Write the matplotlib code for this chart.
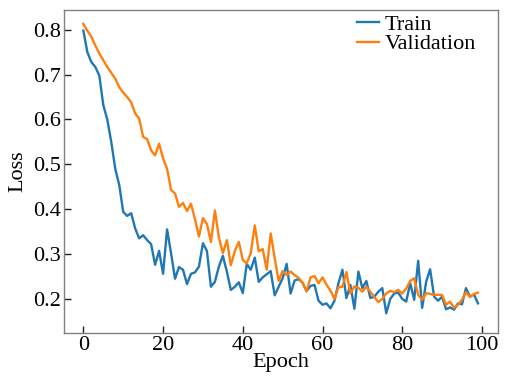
import matplotlib
matplotlib.use("Agg")
import matplotlib.pyplot as plt
import numpy as np

epochs = list(range(100))
train_loss = [
    0.798, 0.750, 0.728, 0.717, 0.698, 0.632, 0.600, 0.550, 0.490, 0.454,
    0.394, 0.385, 0.391, 0.357, 0.335, 0.342, 0.331, 0.322, 0.276, 0.307,
    0.256, 0.355, 0.302, 0.245, 0.271, 0.265, 0.233, 0.256, 0.259, 0.272,
    0.324, 0.307, 0.227, 0.238, 0.272, 0.296, 0.261, 0.220, 0.227, 0.237,
    0.213, 0.278, 0.265, 0.292, 0.238, 0.248, 0.255, 0.262, 0.208, 0.227,
    0.246, 0.278, 0.212, 0.241, 0.244, 0.236, 0.217, 0.229, 0.231, 0.196,
    0.187, 0.190, 0.179, 0.196, 0.235, 0.265, 0.202, 0.231, 0.178, 0.261,
    0.224, 0.240, 0.202, 0.205, 0.216, 0.224, 0.168, 0.200, 0.212, 0.214,
    0.200, 0.194, 0.235, 0.198, 0.285, 0.180, 0.238, 0.266, 0.205, 0.196,
    0.205, 0.177, 0.181, 0.176, 0.190, 0.188, 0.224, 0.205, 0.210, 0.190,
]
val_loss = [
    0.813, 0.798, 0.784, 0.765, 0.747, 0.732, 0.717, 0.704, 0.691, 0.672,
    0.660, 0.650, 0.638, 0.613, 0.602, 0.561, 0.556, 0.531, 0.520, 0.546,
    0.513, 0.490, 0.443, 0.435, 0.405, 0.414, 0.396, 0.412, 0.378, 0.339,
    0.380, 0.367, 0.327, 0.397, 0.337, 0.302, 0.331, 0.275, 0.307, 0.327,
    0.287, 0.279, 0.302, 0.364, 0.306, 0.311, 0.265, 0.346, 0.291, 0.240,
    0.262, 0.253, 0.261, 0.253, 0.247, 0.236, 0.217, 0.248, 0.251, 0.235,
    0.248, 0.232, 0.218, 0.200, 0.226, 0.227, 0.260, 0.212, 0.228, 0.225,
    0.216, 0.227, 0.216, 0.204, 0.193, 0.200, 0.212, 0.218, 0.215, 0.220,
    0.212, 0.223, 0.240, 0.246, 0.209, 0.198, 0.213, 0.211, 0.209, 0.209,
    0.209, 0.187, 0.194, 0.180, 0.187, 0.198, 0.215, 0.204, 0.211, 0.214,
]
xticks = [0, 20, 40, 60, 80, 100]
yticks = [0.2, 0.3, 0.4, 0.5, 0.6, 0.7, 0.8]

plt.rcParams['font.family'] = 'serif'
plt.rcParams['font.serif'] = ['Liberation Serif', 'DejaVu Serif']
plt.rcParams['font.size'] = 16

fig = plt.figure(figsize=(5.05, 3.81), dpi=100)
ax = fig.add_axes([0.126, 0.126, 0.8595, 0.849])

ax.plot(epochs, train_loss, color='#1f77b4', lw=1.7, label='Train')
ax.plot(epochs, val_loss, color='#ff7f0e', lw=1.7, label='Validation')

ax.set_xlim(-4.95, 103.95)
ax.set_ylim(0.124, 0.845)
ax.set_xticks(xticks)
ax.set_xticklabels([str(t) for t in xticks])
ax.set_yticks(yticks)
ax.set_yticklabels([f"{t:.1f}" for t in yticks])
ax.tick_params(direction='in', length=5, width=1, color='#222222')
ax.tick_params(axis='x', pad=2)
ax.tick_params(axis='y', pad=2)
for s in ax.spines.values():
    s.set_color('#808080')
    s.set_linewidth(1.0)

ax.set_xlabel('Epoch', labelpad=-1)
ax.set_ylabel('Loss', labelpad=4)

ax.legend(loc='upper right', bbox_to_anchor=(0.95, 0.985), frameon=False,
          borderaxespad=0, borderpad=0, handlelength=1.0, handletextpad=0.25,
          labelspacing=-0.05)

fig.savefig('out.png', dpi=100)
